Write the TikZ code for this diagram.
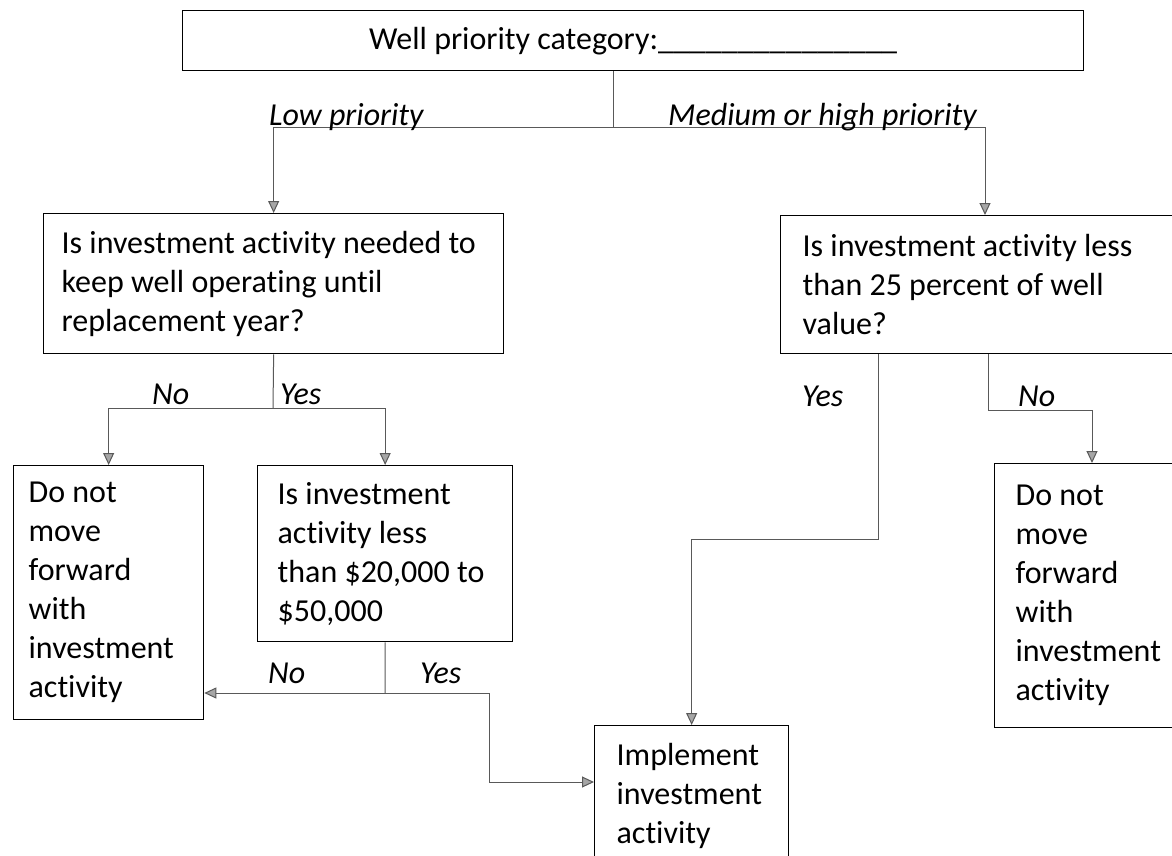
\documentclass[tikz,border=0pt]{standalone}
\usepackage{fontspec}
\setmainfont{Carlito}[Ligatures=NoCommon]
\usetikzlibrary{arrows.meta}
\tikzstyle{flowbox} = [draw=black, line width=1.3pt, rectangle, anchor=north west,
    inner ysep=0pt, font=\fontsize{32}{39}\selectfont, align=flush left]
\tikzstyle{branch} = [draw=black!65, line width=1pt]
\tikzstyle{flowarrow} = [branch, -{Triangle[length=12pt, width=11pt, fill=black!35]}]
\tikzstyle{answer} = [font=\fontsize{32}{39}\selectfont\itshape, inner sep=0pt, anchor=base west]

\begin{document}
\begin{tikzpicture}[x=1pt, y=-1pt]
    \useasboundingbox (0,0) rectangle (1172,856);
    % boxes
    \node [flowbox, minimum width=901pt, minimum height=60pt, align=center] (category) at (182,10)
        {Well priority category:\_\_\_\_\_\_\_\_\_\_\_\_\_\_\_};
    \node [flowbox, text width=424pt, inner xsep=18pt, minimum height=140pt] (needed) at (43,213)
        {Is investment activity needed to\\keep well operating until\\replacement year?};
    \node [flowbox, text width=376pt, inner xsep=22pt, minimum height=138pt] (quarter) at (780,215)
        {Is investment activity less\\than 25 percent of well\\value?};
    \node [flowbox, text width=160pt, inner xsep=15pt, minimum height=254pt] (stopleft) at (13,465)
        {Do not\\move\\forward\\with\\investment\\activity};
    \node [flowbox, text width=215pt, inner xsep=20pt, minimum height=176pt] (amount) at (257,465)
        {Is investment\\activity less\\than \$20,000 to\\\$50,000};
    \node [flowbox, text width=150pt, inner xsep=22pt, minimum height=140pt] (implement) at (594,725)
        {Implement\\investment\\activity};
    \node [flowbox, text width=170pt, inner xsep=21pt, minimum height=264pt] (stopright) at (994,463)
        {Do not\\move\\forward\\with\\investment\\activity};
    % bends
    \coordinate (split) at (613,128);
    \coordinate (lowfork) at (273,408);
    \coordinate (amountfork) at (385,693);
    \coordinate (yesbend) at (489,782);
    \coordinate (quarteryes) at (878,539);
    \coordinate (quarterno) at (988,410);
    \coordinate (stopin) at (1092,410);
    % connectors
    \draw [branch] (category.south -| split) -- (split);
    \draw [flowarrow] (split) -| (needed.north);
    \draw [flowarrow] (split) -| (quarter.north -| 985,0);
    \draw [branch] (needed.south) -- (lowfork);
    \draw [flowarrow] (lowfork) -| (stopleft.north);
    \draw [flowarrow] (lowfork) -| (amount.north);
    \draw [branch] (amount.south) -- (amountfork);
    \draw [flowarrow] (amountfork) -- (stopleft.east |- amountfork);
    \draw [flowarrow] (amountfork) -| (yesbend) -- (implement.west |- yesbend);
    \draw [flowarrow] (quarter.south -| quarteryes) -- (quarteryes) -| (implement.north);
    \draw [flowarrow] (quarter.south -| quarterno) -- (quarterno) -- (stopin) -- (stopright.north -| stopin);
    % answers
    \node [answer] (low) at (269,126) {Low priority};
    \node [answer] (high) at (668,126) {Medium or high priority};
    \node [answer] (lowno) at (152,404) {No};
    \node [answer] (lowyes) at (280,404) {Yes};
    \node [answer] (amountno) at (268,683) {No};
    \node [answer] (amountyes) at (420,683) {Yes};
    \node [answer] (quarteryeslabel) at (802,406) {Yes};
    \node [answer] (quarternolabel) at (1018,406) {No};
\end{tikzpicture}
\end{document}
